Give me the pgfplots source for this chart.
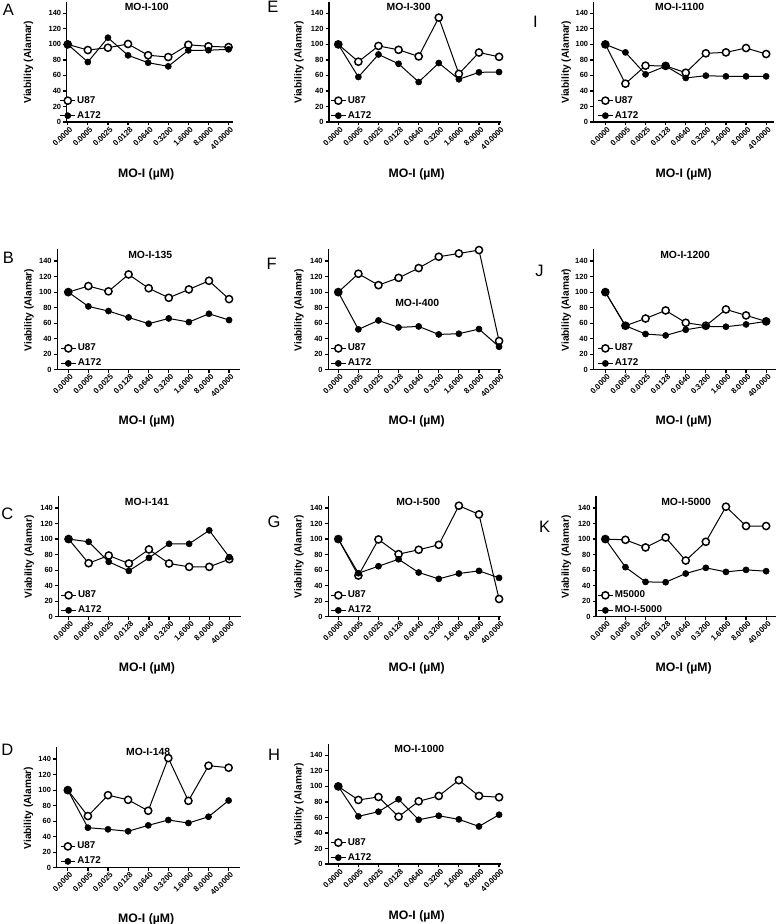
\documentclass[border=0pt]{standalone}
\usepackage{fontspec}
\setmainfont{Liberation Sans}
\usepackage{pgfplots}
\pgfplotsset{compat=1.18}
\pgfplotsset{
  mo/.style={
    scale only axis,
    x=15.075pt, y=0.582pt,
    ymin=0, ymax=155,
    anchor=origin,
    clip=false,
    axis x line*=bottom, axis y line*=left,
    axis line style={line width=0.95pt, black},
    xtick={0,...,8},
    xticklabels={0.0000,0.0005,0.0025,0.0128,0.0640,0.3200,1.6000,8.0000,40.0000},
    ytick={0,20,...,140},
    tick align=outside,
    major tick length=2.5pt,
    tick style={line width=0.9pt, black},
    /pgf/number format/assume math mode=true,
    xticklabel style={rotate=45, anchor=east, font=\bfseries\fontsize{5.9}{6.5}\selectfont, inner sep=0.5pt, yshift=-3.2pt, xshift=1pt},
    yticklabel style={font=\bfseries\fontsize{5.6}{6.5}\selectfont, inner sep=1.5pt},
    ylabel={Viability (Alamar)},
    xlabel={MO-I (µM)},
    ylabel style={at={(axis cs:-1.95,77)}, anchor=center, font=\bfseries\fontsize{7.6}{8.5}\selectfont},
    xlabel style={at={(axis cs:3.9,-67)}, anchor=center, font=\bfseries\fontsize{9.2}{10}\selectfont},
    legend style={at={(axis cs:-0.4,0)}, anchor=south west, draw=none, fill=none, inner sep=0pt,
      row sep=2.2pt, font=\bfseries\fontsize{7.4}{8}\selectfont, nodes={inner sep=1.2pt}},
    legend cell align=left,
    legend image code/.code={\draw[mark repeat=2,mark phase=2,#1] plot coordinates {(0pt,0pt) (5.5pt,0pt) (11pt,0pt)};},
  },
  u/.style={black, line width=0.75pt, mark=*, mark size=2.7pt, mark options={fill=white, draw=black, line width=1.1pt}},
  a/.style={black, line width=0.75pt, mark=*, mark size=2.3pt, mark options={fill=black, draw=black, line width=0.4pt}},
}
\newcommand{\ttl}[3]{\node[font=\bfseries\fontsize{7.8}{9}\selectfont] at (axis cs:#1,#2) {#3};}
\begin{document}
\begin{tikzpicture}
\useasboundingbox (0,0) rectangle (582.75pt,693pt);
% ---------------- A
\begin{axis}[mo, at={(50.8pt,601.5pt)}, xmin=-0.05, xmax=8.2]
\addplot[u] coordinates {(0,100) (1,92.7) (2,95.7) (3,100.5) (4,86) (5,83.7) (6,99.5) (7,97.5) (8,96.5)};
\addplot[a] coordinates {(0,100) (1,77.3) (2,108.6) (3,85.9) (4,76.4) (5,71.7) (6,92.3) (7,92.5) (8,93.6)};
\legend{U87,A172}
\ttl{3.93}{148.5}{MO-I-100}
\end{axis}
% ---------------- B
\begin{axis}[mo, at={(51.2pt,415.7pt)}, xmin=-0.55, xmax=8.55]
\addplot[u] coordinates {(0,100) (1,107.8) (2,101) (3,122.8) (4,105) (5,92.7) (6,103.5) (7,114.6) (8,91)};
\addplot[a] coordinates {(0,100) (1,81.6) (2,75.6) (3,67.4) (4,59.3) (5,66.1) (6,61.4) (7,72.1) (8,64)};
\legend{U87,A172}
\ttl{4.08}{148.5}{MO-I-135}
\end{axis}
% ---------------- C
\begin{axis}[mo, at={(51.4pt,230.5pt)}, xmin=-0.5, xmax=8.56]
\addplot[u] coordinates {(0,100) (1,68.9) (2,78.8) (3,68.5) (4,86.6) (5,68.5) (6,64.2) (7,64.2) (8,74.1)};
\addplot[a] coordinates {(0,100) (1,96.5) (2,70.7) (3,59) (4,75.8) (5,93.9) (6,93.9) (7,111.2) (8,76.7)};
\legend{U87,A172}
\ttl{3.9}{148.5}{MO-I-141}
\end{axis}
% ---------------- D
\begin{axis}[mo, at={(50.85pt,42.2pt)}, xmin=-0.56, xmax=8.56]
\addplot[u] coordinates {(0,100) (1,66.6) (2,93.5) (3,87.5) (4,73.4) (5,141.3) (6,86.2) (7,131.5) (8,128.9)};
\addplot[a] coordinates {(0,100) (1,51.6) (2,49.5) (3,47) (4,54.6) (5,61.5) (6,57.6) (7,65.7) (8,86.6)};
\legend{U87,A172}
\ttl{4.0}{149.5}{MO-I-148}
\end{axis}
% ---------------- E
\begin{axis}[mo, at={(253.7pt,601.5pt)}, xmin=-0.46, xmax=8.12]
\addplot[u] coordinates {(0,100) (1,77.7) (2,98) (3,93) (4,84.5) (5,134.5) (6,62) (7,89.5) (8,84)};
\addplot[a] coordinates {(0,100) (1,58) (2,87) (3,75) (4,51.5) (5,76) (6,55) (7,64) (8,64.4)};
\legend{U87,A172}
\ttl{3.5}{148.5}{MO-I-300}
\end{axis}
% ---------------- F
\begin{axis}[mo, at={(253.7pt,415.7pt)}, xmin=-0.5, xmax=8.12]
\addplot[u] coordinates {(0,100) (1,123.7) (2,109) (3,118.4) (4,131) (5,145.6) (6,149.8) (7,154.2) (8,37)};
\addplot[a] coordinates {(0,100) (1,52) (2,63.5) (3,54.5) (4,55.8) (5,45.5) (6,46.4) (7,52.4) (8,29.6)};
\legend{U87,A172}
\ttl{3.93}{86}{MO-I-400}
\end{axis}
% ---------------- G
\begin{axis}[mo, at={(253.7pt,230.5pt)}, xmin=-0.5, xmax=8.12]
\addplot[u] coordinates {(0,100) (1,53) (2,99.5) (3,80.6) (4,86.2) (5,92.6) (6,143) (7,131.8) (8,22.8)};
\addplot[a] coordinates {(0,100) (1,56) (2,65) (3,74) (4,56.9) (5,48.7) (6,55.6) (7,59) (8,50)};
\legend{U87,A172}
\ttl{3.98}{148.5}{MO-I-500}
\end{axis}
% ---------------- H
\begin{axis}[mo, at={(253.7pt,45pt)}, xmin=-0.5, xmax=8.12]
\addplot[u] coordinates {(0,100) (1,82.5) (2,86.4) (3,61) (4,80.8) (5,87.7) (6,108) (7,87.7) (8,86)};
\addplot[a] coordinates {(0,100) (1,61.4) (2,67.4) (3,83.4) (4,57) (5,62.2) (6,57.5) (7,48.4) (8,63.5)};
\legend{U87,A172}
\ttl{4.03}{148.5}{MO-I-1000}
\end{axis}
% ---------------- I
\begin{axis}[mo, at={(454pt,601.5pt)}, xmin=-0.58, xmax=8.38]
\addplot[u] coordinates {(0,100) (1,49.4) (2,72.6) (3,72.3) (4,63.5) (5,88.5) (6,89.7) (7,95.3) (8,87.6)};
\addplot[a] coordinates {(0,100) (1,89.7) (2,61.4) (3,72) (4,56.7) (5,59.7) (6,58.8) (7,58.8) (8,58.8)};
\legend{U87,A172}
\ttl{3.7}{148.5}{MO-I-1100}
\end{axis}
% ---------------- J
\begin{axis}[mo, at={(454pt,415.7pt)}, xmin=-0.6, xmax=8.5]
\addplot[u] coordinates {(0,100) (1,56.7) (2,66) (3,76.4) (4,60.5) (5,56.7) (6,77.7) (7,70) (8,62.3)};
\addplot[a] coordinates {(0,100) (1,56.7) (2,46) (3,44.2) (4,51.5) (5,55.8) (6,55.4) (7,58.4) (8,62.3)};
\legend{U87,A172}
\ttl{3.97}{148.5}{MO-I-1200}
\end{axis}
% ---------------- K
\begin{axis}[mo, at={(454pt,230.5pt)}, xmin=-0.46, xmax=8.5]
\addplot[u] coordinates {(0,100) (1,99) (2,89.2) (3,102) (4,72.3) (5,96.5) (6,141.7) (7,116.8) (8,116.8)};
\addplot[a] coordinates {(0,100) (1,63.8) (2,44.8) (3,44.4) (4,55.6) (5,62.9) (6,57.7) (7,60.3) (8,58.6)};
\legend{M5000,MO-I-5000}
\ttl{4.02}{148.5}{MO-I-5000}
\end{axis}
% panel letters
\begin{scope}[every node/.style={font=\fontsize{12.4}{13}\selectfont, inner sep=0pt}]
\node at (6.2pt,686pt) {A};
\node at (6.2pt,500pt) {B};
\node at (5.6pt,307.5pt) {C};
\node at (5.6pt,131pt) {D};
\node at (204.6pt,688pt) {E};
\node at (203.8pt,495pt) {F};
\node at (205.6pt,302pt) {G};
\node at (205.5pt,127pt) {H};
\node at (401.5pt,677pt) {I};
\node at (404.6pt,490pt) {J};
\node at (408.4pt,298pt) {K};
\end{scope}
\end{tikzpicture}
\end{document}
